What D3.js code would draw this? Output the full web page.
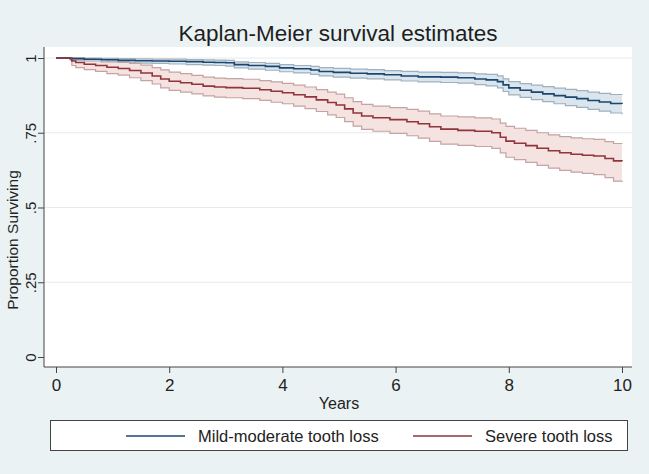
<!DOCTYPE html>
<html>
<head>
<meta charset="utf-8">
<script src="https://cdn.jsdelivr.net/npm/d3@7"></script>
<style>
  body { margin: 0; background: #eaf2f3; }
  svg { display: block; font-family: "Liberation Sans", Arial, sans-serif; }
</style>
</head>
<body>
<svg id="chart"></svg>
<script>
// Mild-moderate tooth loss
const blueTime = [0, 0.25, 0.5, 0.8, 1.1, 1.4, 1.7, 2.0, 2.3, 2.6, 2.8, 3.0, 3.15, 3.4, 3.7, 3.95, 4.2, 4.5, 4.65, 4.9, 5.2, 5.5, 5.8, 6.1, 6.4, 6.8, 7.1, 7.4, 7.6, 7.8, 7.9, 8.0, 8.2, 8.4, 8.6, 8.8, 9.0, 9.2, 9.4, 9.6, 9.8, 10];
const blueSurv = [1, .998, .996, .994, .992, .991, .990, .989, .988, .986, .985, .984, .978, .975, .972, .967, .964, .96, .955, .952, .949, .947, .944, .940, .937, .936, .934, .93, .927, .921, .910, .900, .892, .886, .880, .874, .869, .864, .858, .853, .848, .846];
const blueHi = [1, 1, 1, .999, .998, .997, .996, .996, .995, .994, .993, .992, .987, .985, .982, .978, .975, .972, .968, .965, .963, .961, .958, .955, .953, .952, .950, .947, .945, .940, .930, .921, .914, .909, .904, .899, .895, .891, .886, .882, .878, .877];
const blueLo = [1, .993, .990, .987, .985, .983, .982, .980, .978, .976, .975, .973, .967, .963, .959, .954, .950, .945, .940, .936, .933, .930, .927, .923, .920, .918, .916, .911, .907, .900, .888, .877, .868, .861, .854, .847, .841, .835, .828, .822, .816, .812];

// Severe tooth loss
const redTime = [0, 0.28, 0.35, 0.5, 0.7, 0.9, 1.1, 1.3, 1.5, 1.7, 1.85, 2.0, 2.2, 2.4, 2.6, 2.8, 3.0, 3.3, 3.6, 3.8, 4.0, 4.2, 4.4, 4.6, 4.8, 4.95, 5.1, 5.25, 5.4, 5.6, 5.9, 6.2, 6.4, 6.6, 6.8, 7.1, 7.4, 7.7, 7.85, 7.95, 8.1, 8.3, 8.5, 8.7, 8.9, 9.1, 9.3, 9.5, 9.7, 9.85, 10];
const redSurv = [1, .99, .985, .979, .975, .969, .965, .958, .95, .94, .93, .922, .917, .912, .906, .903, .901, .899, .894, .889, .884, .877, .87, .86, .851, .843, .83, .816, .806, .8, .794, .787, .78, .77, .762, .758, .755, .75, .735, .722, .715, .707, .698, .69, .683, .678, .675, .672, .664, .656, .655];
const redHi = [1, 1, 1, .998, .995, .99, .987, .982, .976, .968, .96, .953, .948, .942, .936, .933, .931, .929, .924, .92, .915, .909, .903, .894, .886, .879, .867, .854, .845, .839, .834, .828, .822, .813, .806, .803, .8, .796, .782, .771, .765, .758, .75, .743, .737, .733, .73, .728, .72, .714, .713];
const redLo = [1, .975, .968, .961, .955, .948, .943, .934, .924, .913, .9, .892, .886, .88, .873, .869, .867, .864, .858, .852, .847, .839, .831, .821, .81, .801, .787, .772, .761, .755, .748, .74, .732, .721, .712, .708, .704, .698, .683, .668, .66, .651, .641, .632, .624, .618, .614, .61, .6, .588, .585];

const xTicks = [0, 2, 4, 6, 8, 10];
const yTicks = [0, 0.25, 0.5, 0.75, 1];
const yTickLabels = ["0", ".25", ".5", ".75", "1"];
const seriesNames = ["Mild-moderate tooth loss", "Severe tooth loss"];

const width = 649, height = 474;
const svg = d3.select("#chart").attr("width", width).attr("height", height);

svg.append("rect").attr("width", width).attr("height", height).attr("fill", "#eaf2f3");

const plot = { left: 44, right: 632, top: 47, bottom: 367 };
svg.append("rect")
    .attr("x", plot.left).attr("y", plot.top)
    .attr("width", plot.right - plot.left).attr("height", plot.bottom - plot.top)
    .attr("fill", "#fff");

const x = d3.scaleLinear().domain([0, 10]).range([56, 622]);
const y = d3.scaleLinear().domain([0, 1]).range([357, 58]);

// grid
svg.append("g").selectAll("line")
    .data(yTicks.filter(d => d > 0))
    .enter().append("line")
    .attr("x1", plot.left + 1).attr("x2", plot.right)
    .attr("y1", d => y(d)).attr("y2", d => y(d))
    .attr("stroke", "#e6ebec").attr("stroke-width", 1);

function makeSeries(time, surv, lo, hi) {
    return time.map((t, i) => ({ t: t, s: surv[i], lo: lo[i], hi: hi[i] }));
}
const groups = [
    { data: makeSeries(blueTime, blueSurv, blueLo, blueHi), line: "#1a476f", band: "#d5e0ea", edge: "#9fb0bf" },
    { data: makeSeries(redTime, redSurv, redLo, redHi), line: "#90353b", band: "#f3dedd", edge: "#c4a3a3" }
];

const area = d3.area().curve(d3.curveStepAfter)
    .x(d => x(d.t)).y0(d => y(d.lo)).y1(d => y(d.hi));
const lineOf = key => d3.line().curve(d3.curveStepAfter).x(d => x(d.t)).y(d => y(d[key]));

groups.forEach(g => {
    svg.append("path").datum(g.data).attr("d", area).attr("fill", g.band).attr("opacity", 0.85);
});
groups.forEach(g => {
    ["lo", "hi"].forEach(k => {
        svg.append("path").datum(g.data).attr("d", lineOf(k))
            .attr("fill", "none").attr("stroke", g.edge).attr("stroke-width", 1.2);
    });
});
groups.forEach(g => {
    svg.append("path").datum(g.data).attr("d", lineOf("s"))
        .attr("fill", "none").attr("stroke", g.line).attr("stroke-width", 1.6);
});

// axes
const xAxis = svg.append("g").attr("transform", `translate(0,${plot.bottom})`)
    .call(d3.axisBottom(x).tickValues(xTicks).tickSize(6).tickPadding(6));
xAxis.select(".domain").attr("d", `M${plot.left},0H${plot.right}`);
const yAxis = svg.append("g").attr("transform", `translate(${plot.left},0)`)
    .call(d3.axisLeft(y).tickValues(yTicks).tickSize(6).tickFormat((d, i) => yTickLabels[i]));
yAxis.select(".domain").attr("d", `M0,${plot.top}V${plot.bottom}`);
svg.selectAll(".domain").attr("stroke", "#444");
svg.selectAll(".tick line").attr("stroke", "#444");
svg.selectAll("g").attr("font-family", null);
xAxis.selectAll("text").attr("font-size", 17).attr("fill", "#222");
yAxis.selectAll(".tick text")
    .attr("font-size", 15).attr("fill", "#222")
    .attr("text-anchor", "middle")
    .attr("x", 0).attr("y", 0).attr("dy", "0")
    .attr("transform", "translate(-8,0) rotate(-90)");

// title + axis titles
svg.append("text").attr("x", 338).attr("y", 41).attr("text-anchor", "middle")
    .attr("font-size", 22.5).attr("fill", "#1e1e1e").text("Kaplan-Meier survival estimates");
svg.append("text").attr("x", 339).attr("y", 409).attr("text-anchor", "middle")
    .attr("font-size", 16).attr("fill", "#222").text("Years");
svg.append("text").attr("transform", "translate(18,240) rotate(-90)").attr("text-anchor", "middle")
    .attr("font-size", 15.5).attr("fill", "#222").text("Proportion Surviving");

// legend
const legend = svg.append("g");
legend.append("rect").attr("x", 50.5).attr("y", 420.5).attr("width", 577).attr("height", 30)
    .attr("fill", "#fff").attr("stroke", "#444");
const legendX = [126, 413];
groups.forEach((g, i) => {
    legend.append("line").attr("x1", legendX[i]).attr("x2", legendX[i] + 59)
        .attr("y1", 436).attr("y2", 436).attr("stroke", g.line).attr("stroke-width", 1.4);
    legend.append("text").attr("x", legendX[i] + 72).attr("y", 442)
        .attr("font-size", 16.5).attr("fill", "#222").text(seriesNames[i]);
});
</script>
</body>
</html>
